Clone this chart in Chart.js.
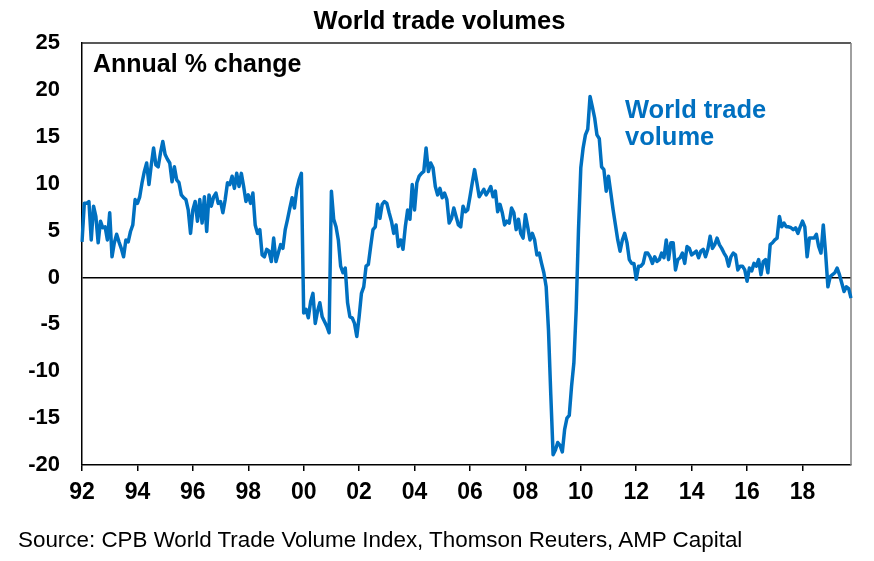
<!DOCTYPE html>
<html lang="en">
<head>
    <meta charset="UTF-8">
    <title>World trade volumes</title>
    <script src="https://cdn.jsdelivr.net/npm/chart.js"></script>
    <style>
        html, body { margin: 0; padding: 0; background: #fff; }
        #wrap { position: relative; width: 874px; height: 561px; font-family: 'Liberation Sans', Arial, sans-serif; }
        #wrap canvas { position: absolute; left: 0; top: 0; }
        .txt { position: absolute; white-space: nowrap; pointer-events: none; }
        #title { left: 0; width: 874px; top: 5px; text-align: center; font-weight: bold; font-size: 25.5px; line-height: 30px; padding-left: 5px; box-sizing: border-box; }
        #units { left: 93px; top: 48px; font-weight: bold; font-size: 25px; line-height: 30px; }
        #seriesName { left: 625px; top: 96px; font-weight: bold; font-size: 25.5px; line-height: 27px; color: #0070C0; }
        #source { left: 18px; top: 527px; font-size: 22.4px; line-height: 26px; }
    </style>
</head>
<body>

<div id="wrap">
    <canvas id="tradeChart" width="874" height="561"></canvas>
    <div class="txt" id="title">World trade volumes</div>
    <div class="txt" id="units">Annual % change</div>
    <div class="txt" id="seriesName">World trade<br>volume</div>
    <div class="txt" id="source">Source: CPB World Trade Volume Index, Thomson Reuters, AMP Capital</div>
</div>

<script>
    // monthly annual % change, Jan 1992 onwards
    const vol1990s = [
        3.8, 7.9, 7.9, 8.1, 4.0, 7.6, 6.5, 3.7, 6.0, 5.3, 5.4, 4.0,      // 1992
        6.9, 2.2, 3.7, 4.6, 3.8, 3.1, 2.2, 4.0, 3.8, 4.9, 5.6, 8.3,      // 1993
        7.9, 8.6, 10.1, 11.3, 12.2, 9.9, 12.0, 13.8, 12.0, 11.8, 13.3, 14.5, // 1994
        13.1, 12.6, 12.2, 10.2, 11.8, 10.4, 10.1, 8.8, 8.5, 8.3, 7.2, 4.7,  // 1995
        7.2, 8.1, 6.0, 8.3, 5.8, 8.6, 4.9, 8.8, 7.6, 8.6, 9.0, 7.9,      // 1996
        8.1, 6.9, 8.3, 10.1, 9.9, 10.8, 9.5, 11.1, 9.7, 11.1, 9.7, 8.1,  // 1997
        8.8, 7.9, 9.0, 5.6, 4.7, 5.1, 2.4, 2.2, 3.0, 2.8, 1.7, 4.2,      // 1998
        1.7, 2.6, 3.5, 3.1, 5.1, 6.2, 7.4, 8.5, 7.4, 9.4, 10.4, 11.1     // 1999
    ];
    const vol2000s = [
        -3.8, -3.4, -4.3, -2.6, -1.7, -4.9, -3.6, -2.7, -4.2, -4.7, -5.2, -5.9, // 2000
        9.2, 6.2, 5.4, 4.0, 1.2, 0.5, 1.0, -2.7, -4.2, -4.3, -4.9, -6.3,   // 2001
        -4.2, -1.7, -1.0, 1.2, 1.4, 3.3, 5.1, 5.4, 7.8, 6.3, 7.8, 8.1,     // 2002
        7.9, 6.9, 6.0, 4.7, 5.6, 3.3, 4.0, 3.0, 5.4, 7.2, 6.2, 9.9,        // 2003
        7.2, 10.1, 10.8, 11.1, 11.3, 13.8, 11.3, 12.2, 11.7, 9.7, 8.8, 9.5, // 2004
        8.5, 9.0, 8.3, 5.8, 6.3, 7.4, 6.5, 5.6, 5.4, 7.6, 7.0, 7.2,        // 2005
        8.6, 10.1, 11.5, 10.1, 8.6, 9.0, 9.4, 8.8, 9.2, 9.7, 8.6, 9.2,     // 2006
        7.0, 7.8, 6.9, 5.6, 6.0, 5.8, 7.4, 6.9, 5.1, 6.2, 4.7, 4.2,        // 2007
        6.7, 5.4, 4.0, 4.7, 4.0, 2.4, 2.6, 1.5, 0.5, -1.0, -5.6, -12.5,    // 2008
        -18.9, -18.4, -17.6, -17.9, -18.6, -16.2, -15.0, -14.7, -11.6, -9.1, -3.4, 5.1 // 2009
    ];
    const vol2010s = [
        11.7, 13.8, 15.2, 15.8, 19.3, 18.2, 17.0, 15.2, 14.8, 11.8, 11.5, 9.2, // 2010
        10.8, 9.0, 7.2, 5.6, 4.0, 2.8, 4.0, 4.7, 3.7, 1.9, 1.5, 1.5,       // 2011
        -0.2, 1.2, 1.2, 1.5, 2.6, 2.6, 2.2, 1.5, 2.2, 1.7, 1.9, 2.6,       // 2012
        2.1, 4.0, 1.9, 3.7, 3.7, 0.8, 1.9, 2.1, 2.6, 1.5, 3.3, 3.1,        // 2013
        2.4, 2.6, 2.8, 2.1, 2.8, 3.0, 2.2, 3.0, 4.4, 3.1, 3.5, 4.2,        // 2014
        3.5, 3.1, 2.6, 2.2, 1.2, 2.2, 2.6, 2.4, 0.8, 1.2, 1.2, 0.8,        // 2015
        -0.4, 1.0, 0.7, 1.5, 1.2, 1.9, 0.3, 1.7, 1.9, 0.5, 3.5, 3.7,       // 2016
        4.0, 4.2, 6.5, 5.4, 5.8, 5.4, 5.4, 5.3, 5.1, 5.3, 4.7, 5.4,        // 2017
        6.0, 5.4, 2.2, 4.2, 4.2, 4.2, 4.6, 3.3, 2.6, 5.6, 2.6, -1.0,       // 2018
        0.1, 0.3, 0.5, 1.0, 0.3, -0.6, -1.5, -1.0, -1.2, -2.2              // 2019 (Jan-Oct)
    ];
    const tradeVolume = vol1990s.concat(vol2000s, vol2010s);

    // month categories, yyyy-mm
    const months = [];
    for (let y = 1992; months.length < tradeVolume.length; y++) {
        for (let m = 1; m <= 12 && months.length < tradeVolume.length; m++) {
            months.push(y + '-' + String(m).padStart(2, '0'));
        }
    }

    const xTickMonths = ['1992-01', '1994-01', '1996-01', '1998-01', '2000-01', '2002-01', '2004-01',
                         '2006-01', '2008-01', '2010-01', '2012-01', '2014-01', '2016-01', '2018-01'];
    const xTickLabels = ['92', '94', '96', '98', '00', '02', '04', '06', '08', '10', '12', '14', '16', '18'];
    const yTicks = [-20, -15, -10, -5, 0, 5, 10, 15, 20, 25];

    const fontFamily = "'Liberation Sans', Arial, sans-serif";
    const tickIdx = xTickMonths.map(m => months.indexOf(m));

    // top and right edges of the plot box
    const framePlugin = {
        id: 'frame',
        beforeDatasetsDraw(chart) {
            const { ctx, chartArea: a } = chart;
            ctx.save();
            ctx.lineWidth = 1.5;
            ctx.strokeStyle = '#222';
            ctx.beginPath();
            ctx.moveTo(a.left, a.top);
            ctx.lineTo(a.right, a.top);
            ctx.stroke();
            ctx.strokeStyle = '#808080';
            ctx.beginPath();
            ctx.moveTo(a.right, a.top);
            ctx.lineTo(a.right, a.bottom);
            ctx.stroke();
            ctx.restore();
        }
    };

    new Chart(document.getElementById('tradeChart'), {
        type: 'line',
        data: {
            labels: months,
            datasets: [{
                label: 'World trade volume',
                data: tradeVolume,
                borderColor: '#0070C0',
                borderWidth: 3.5,
                borderJoinStyle: 'round',
                pointRadius: 0,
                tension: 0,
                fill: false
            }]
        },
        options: {
            responsive: false,
            animation: false,
            devicePixelRatio: 1,
            layout: { padding: { top: 43, right: 23, left: 0, bottom: 0 } },
            plugins: {
                legend: { display: false },
                tooltip: { enabled: false }
            },
            scales: {
                x: {
                    type: 'category',
                    offset: false,
                    afterBuildTicks: scale => { scale.ticks = tickIdx.map(i => ({ value: i })); },
                    afterFit: scale => { scale.height = 96; },
                    ticks: {
                        autoSkip: false,
                        maxRotation: 0,
                        padding: 8,
                        color: '#000',
                        font: { family: fontFamily, size: 23, weight: 'bold' },
                        callback: value => xTickLabels[tickIdx.indexOf(value)]
                    },
                    grid: { drawOnChartArea: false, drawTicks: true, tickLength: 6, color: '#000', lineWidth: 1.5 },
                    border: { color: '#000', width: 1.5 }
                },
                y: {
                    min: yTicks[0],
                    max: yTicks[yTicks.length - 1],
                    afterFit: scale => { scale.width = 82; },
                    ticks: {
                        stepSize: 5,
                        padding: 22,
                        color: '#000',
                        font: { family: fontFamily, size: 22, weight: 'bold' }
                    },
                    grid: {
                        drawTicks: false,
                        color: ctx => ctx.tick && ctx.tick.value === 0 ? '#000' : 'rgba(0,0,0,0)',
                        lineWidth: 1.5
                    },
                    border: { color: '#000', width: 1.5 }
                }
            }
        },
        plugins: [framePlugin]
    });
</script>

</body>
</html>
